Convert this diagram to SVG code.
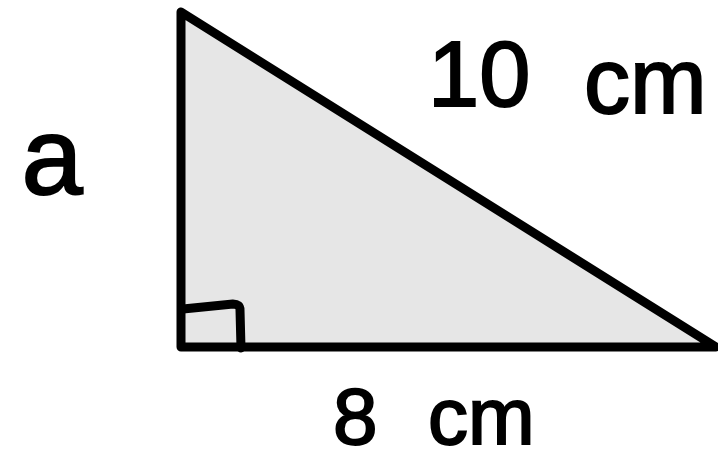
<svg xmlns="http://www.w3.org/2000/svg" width="718" height="463" viewBox="0 0 718 463">
<style>
.edge{fill:none;stroke:#000;stroke-width:9;stroke-linecap:round;stroke-linejoin:round}
.lbl{font-family:"Liberation Sans",Arial,sans-serif;fill:#000;stroke:#000;stroke-width:2}
</style>
<rect width="718" height="463" fill="#fff"/>
<polygon points="181,12 181,347 716,347" fill="#e6e6e6" stroke="#000" stroke-width="9" stroke-linejoin="round"/>
<path class="edge" d="M183,309 L233,304 Q240,304 240,310 L241,348"/>
<text class="lbl" font-size="92"><tspan x="428" y="106">10</tspan><tspan x="584" y="113">cm</tspan></text>
<text class="lbl" x="52" y="194" font-size="110" text-anchor="middle">a</text>
<text class="lbl" font-size="80"><tspan x="333" y="444">8</tspan><tspan x="428" y="444">cm</tspan></text>
</svg>
